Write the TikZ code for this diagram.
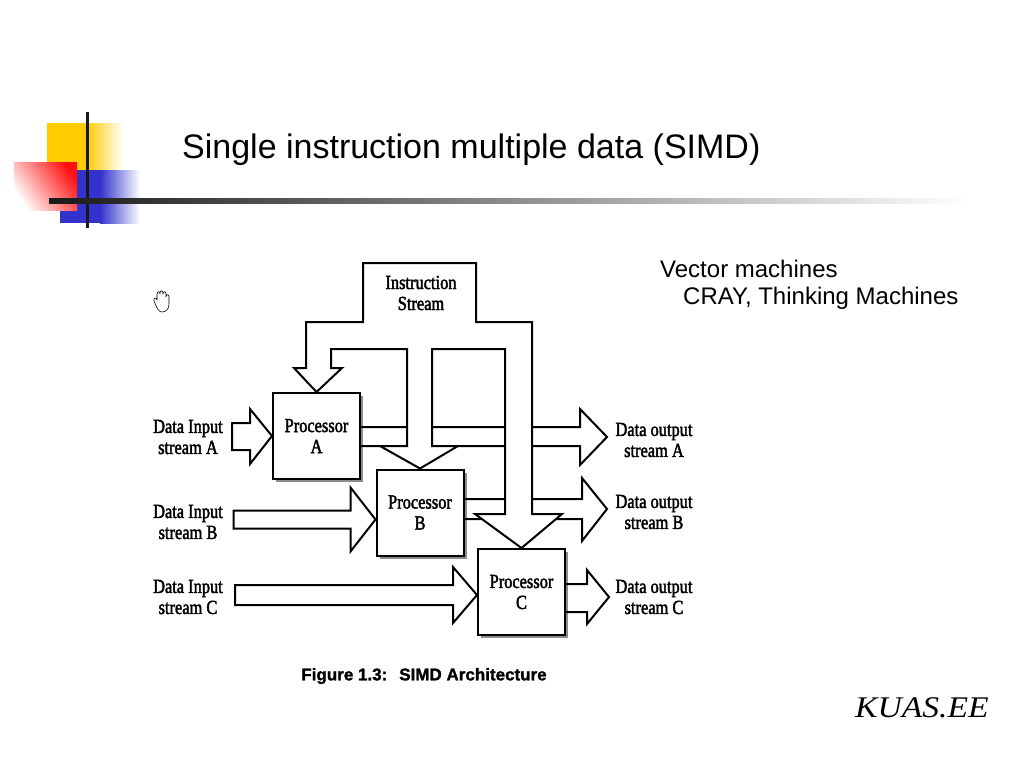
\documentclass[tikz,border=0pt]{standalone}
\usepackage{fontspec}
\usetikzlibrary{calc,shadows}
\newfontfamily\titlefont{Liberation Sans}
\newfontfamily\capfont[FakeBold=1.5]{Liberation Sans Bold}
\newfontfamily\figfont[FakeStretch=0.82,FakeBold=2]{Liberation Serif}
\newfontfamily\signfont{Liberation Serif}
\definecolor{logoyellow}{HTML}{FFCC00}
\definecolor{logoblue}{HTML}{3333CC}
\definecolor{logored}{HTML}{FF1010}

\begin{document}
\begin{tikzpicture}[x=1pt,y=-1pt,
		pipe/.style={line width=2pt, line join=miter},
		proc/.style={draw, line width=2pt, fill=white, minimum width=87pt, minimum height=86pt, inner sep=0pt, align=center, font=\figfont\fontsize{20}{21}\selectfont, drop shadow={shadow xshift=3pt, shadow yshift=-3pt, fill=black!45, opacity=1}},
		figtext/.style={align=center, inner sep=0pt, font=\figfont\fontsize{20}{21}\selectfont},
		slidetext/.style={anchor=base west, inner sep=0pt, font=\titlefont\fontsize{24}{28}\selectfont}]
			%%%%% START %%%%%
			
			\useasboundingbox (0,0) rectangle (1024,768);
			\fill[white] (0,0) rectangle (1024,768);
			
			% logo
			\fill[logoyellow] (47,123) rectangle (86,175);
			\shade[left color=logoyellow, right color=white] (86,123) rectangle (123,175);
			\fill[logoblue] (60,170) rectangle (100,223);
			\shade[left color=logoblue, right color=white] (100,170) rectangle (140,223);
			\shade[top color=logored, bottom color=white, shading angle=-55] (14,162) rectangle (77,210);
			\fill[black!90] (85.5,112) rectangle (88.5,228);
			\shade[left color=black!90, middle color=black!60, right color=white] (49,198) rectangle (970,203);
			
			\node[anchor=base west, inner sep=0pt, font=\titlefont\fontsize{34}{40}\selectfont] (title) at (182,158) {Single instruction multiple data (SIMD)};
			\node[slidetext] (vector) at (660,277) {Vector machines};
			\node[slidetext] (cray) at (683,304) {CRAY, Thinking Machines};
			\node[anchor=base west, inner sep=0pt, font=\signfont\itshape\fontsize{30}{34}\selectfont] (sign) at (855,717) {\scalebox{1.12}[1]{KUAS.EE}};
			
			% hand
			\draw[line width=0.6pt, line join=round] (154,301) .. controls (153,298) and (156,297) .. (157,300) -- (157,294) .. controls (157,291) and (160,291) .. (160,294) -- (160,293) .. controls (160,290) and (163,290) .. (163,293) -- (163,294) .. controls (163,291) and (166,291) .. (166,294) -- (166,297) .. controls (166,294) and (169,294) .. (169,297) -- (169,304) .. controls (169,309) and (166,312) .. (162,312) .. controls (159,312) and (157,309) .. (154,301);
			
			% processors
			\node[proc] (procA) at (316.5,436) {Processor\\A};
			\node[proc] (procB) at (420,512.5) {Processor\\B};
			\node[proc] (procC) at (521.5,592) {Processor\\C};
			
			% instruction stream
			\draw[pipe] (331,368) -- (342,368) -- (procA.north) -- (294,368) -- (306,368) -- (306,322) -- (363,322) -- (363,263) -- (476,263) -- (476,322) -- (532,322) -- (532,514) -- (562,514) -- (procC.north) -- (475,514) -- (505,514) -- (505,349) -- (432,349) -- (432,446) -- (458,446) -- (procB.north) -- (380,446) -- (407,446) -- (407,349) -- (331,349) -- cycle;
			\node[figtext] (instr) at (421,293) {Instruction\\Stream};
			
			% data input
			\draw[pipe] (procA.west) -- ++(-22,-27) -- ++(0,14) -- ++(-18,0) -- ++(0,27) -- ++(18,0) -- ++(0,14) -- cycle;
			\draw[pipe] ($(procB.west)+(0,7)$) -- ++(-25,-32) -- ++(0,23) -- ++(-117,0) -- ++(0,18) -- ++(117,0) -- ++(0,23) -- cycle;
			\draw[pipe] ($(procC.west)+(0,3)$) -- ++(-24,-28) -- ++(0,18) -- ++(-218,0) -- ++(0,20) -- ++(218,0) -- ++(0,18) -- cycle;
			\node[figtext] (inA) at (188,437) {Data Input\\stream A};
			\node[figtext] (inB) at (188,522) {Data Input\\stream B};
			\node[figtext] (inC) at (188,597) {Data Input\\stream C};
			
			% data output
			\draw[pipe] (procA.east |- 0,427) -- (407,427) (432,427) -- (505,427) (532,427) -- (580,427) -- (580,409) -- (607,437) -- (580,465) -- (580,446) -- (532,446) (505,446) -- (458,446) (380,446) -- (procA.east |- 0,446);
			\draw[pipe] (procB.east |- 0,499) -- (505,499) (532,499) -- (582,499) -- (582,478) -- (607,509) -- (582,541) -- (582,519) -- (556,519) (481,519) -- (procB.east |- 0,519);
			\draw[pipe] (procC.east |- 0,584) -- (587,584) -- (587,570) -- (609,597) -- (587,624) -- (587,612) -- (procC.east |- 0,612);
			\node[figtext] (outA) at (654,440) {Data output\\stream A};
			\node[figtext] (outB) at (654,512) {Data output\\stream B};
			\node[figtext] (outC) at (654,597) {Data output\\stream C};
			
			\node[inner sep=0pt, font=\capfont\fontsize{17}{20}\selectfont] (caption) at (424,676) {Figure 1.3:\hspace{12pt}SIMD Architecture};
			
			%%%%% END %%%%%
		\end{tikzpicture}
\end{document}
